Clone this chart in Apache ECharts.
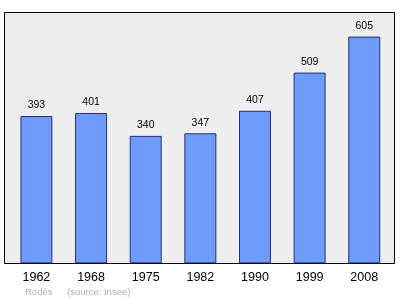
<!DOCTYPE html>
<html><head><meta charset="utf-8">
<script src="https://cdn.jsdelivr.net/npm/echarts@6/dist/echarts.min.js"></script>
<style>html,body{margin:0;padding:0;background:#fff}#c{width:400px;height:299px}</style>
</head><body><div id="c"></div>
<script>
var years = ['1962','1968','1975','1982','1990','1999','2008'];
var population = [393, 401, 340, 347, 407, 509, 605];
var footerPlace = 'Rodès';
var footerSource = '(source: Insee)';

var chart = echarts.init(document.getElementById('c'), null, {renderer:'canvas'});
chart.setOption({
  animation: false,
  backgroundColor: '#ffffff',
  grid: {left: 9.1, right: 8.4, top: 13, bottom: 35.7, containLabel: false},
  graphic: [
    {type:'rect', z:0, shape:{x:4.5, y:12.5, width:390, height:251}, style:{fill:'#eeeeee', stroke:'#000000', lineWidth:1}},
    {type:'text', z:10, left:25, top:287, style:{text:footerPlace, fill:'#b0b0b0', font:'9.5px "Liberation Sans", Arial, sans-serif'}},
    {type:'text', z:10, left:67, top:287, style:{text:footerSource, fill:'#b0b0b0', font:'9.5px "Liberation Sans", Arial, sans-serif'}}
  ],
  xAxis: {
    type:'category', data: years,
    axisLine:{show:false}, axisTick:{show:false}, splitLine:{show:false},
    axisLabel:{color:'#000', fontSize:12.5, fontFamily:'"Liberation Sans", Arial, sans-serif', margin:8}
  },
  yAxis: {
    type:'value', min:0, max:668, show:false, splitLine:{show:false}
  },
  series: [{
    type:'bar', z:2, data: population, barWidth:'58.5%',
    itemStyle:{color:'#6f9bfd', borderColor:'#24307a', borderWidth:1},
    label:{show:true, position:'top', distance:5, color:'#000', fontSize:10.5, fontFamily:'"Liberation Sans", Arial, sans-serif'}
  }]
});
</script></body></html>
